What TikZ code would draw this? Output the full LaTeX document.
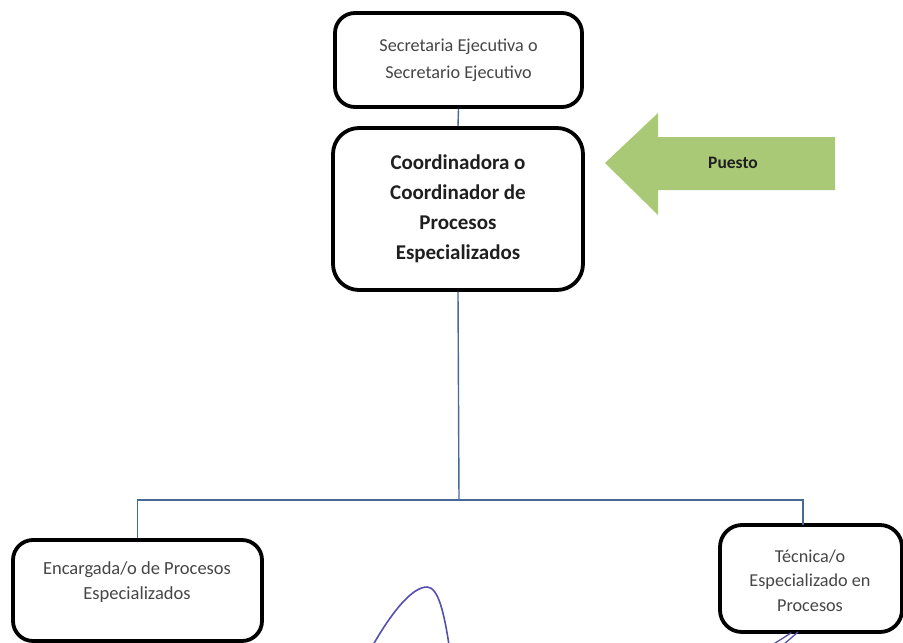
\documentclass[tikz,border=0pt]{standalone}
\usepackage{fontspec}
\setmainfont{Carlito}
\definecolor{boxtext}{RGB}{70,70,70}
\definecolor{conncol}{RGB}{70,105,150}
\definecolor{arrowgreen}{RGB}{170,201,118}
\definecolor{penink}{RGB}{85,80,175}
\begin{document}
\begin{tikzpicture}[x=1pt,y=-1pt,
  orgbox/.style={draw=black,line width=3.8pt,rounded corners=20pt,fill=white,align=center,inner sep=0pt},
  plain/.style={text=boxtext,font=\fontsize{18.2}{27}\selectfont},
  strong/.style={text=black!88,font=\bfseries\fontsize{21}{30}\selectfont},
  conn/.style={draw=conncol,line width=1.4pt},
  pen/.style={draw=penink,line width=1.6pt,line cap=round}]
\useasboundingbox (0,0) rectangle (903,643);
\begin{scope}
\clip (0,0) rectangle (903,643);
% boxes
\node[orgbox,plain,minimum width=247pt,minimum height=94pt] (sec) at (458.5,60)
  {Secretaria Ejecutiva o\\Secretario Ejecutivo};
\node[orgbox,strong,minimum width=250pt,minimum height=162pt,rounded corners=26pt] (coord) at (458,209)
  {Coordinadora o\\Coordinador de\\Procesos\\Especializados};
\node[orgbox,minimum width=249pt,minimum height=101pt] (enc) at (137.5,590.5) {};
\node[text=boxtext,font=\fontsize{18.5}{25}\selectfont,align=center] (enctext) at (137,582)
  {Encargada/o de Procesos\\Especializados};
\node[orgbox,minimum width=182pt,minimum height=107pt,rounded corners=22pt] (tec) at (811,578.5) {};
\node[text=boxtext,font=\fontsize{18.2}{24.5}\selectfont,align=center] (tectext) at (810,580.5)
  {Técnica/o\\Especializado en\\Procesos};
% connectors
\coordinate (j) at (459,500);
\coordinate (tecin) at (803,525);
\draw[conn] (sec.south) -- (coord.north);
\draw[conn] (coord.south) -- (j);
\draw[conn] (j) -| (enc.north);
\draw[conn] (j) -| (tecin);
% green arrow
\fill[arrowgreen] (605,163) -- (658,113) -- (658,137) -- (835,137) -- (835,190)
  -- (658,190) -- (658,215) -- cycle;
\node[text=black!88,font=\bfseries\fontsize{17.5}{20}\selectfont] (puesto) at (733,163) {Puesto};
% pen marks
\draw[pen] (373,645) .. controls (392,612) and (412,587) .. (427,587)
  .. controls (438,587) and (444,612) .. (449,645);
\draw[pen,line width=1.3pt] (772,645) -- (791,633);
\draw[pen,line width=1.3pt] (783,645) -- (798,632);
\end{scope}
\end{tikzpicture}
\end{document}
